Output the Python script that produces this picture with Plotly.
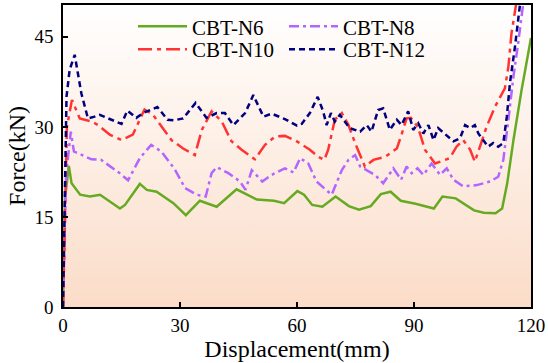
import plotly.graph_objects as go

# ---- data ----
x_n6 = [0, 0.5, 1.5, 2.2, 4.4, 6.9, 9.5, 12, 14.6, 15.9, 19.7, 21.5, 24, 28.3, 31.5, 35.1, 39.4, 44.5, 49.7,
        54.1, 56.7, 60.1, 61.8, 63.9, 66.5, 69.9, 73.3, 75.9, 78.9, 81.5, 84, 86.6, 90.4, 95.1, 97.3, 100.7,
        102.8, 105.4, 107.9, 110.9, 112.6, 113.9, 115.5, 117.6, 120]
y_n6 = [0, 18, 23.5, 20.6, 18.7, 18.4, 18.7, 17.6, 16.4, 17.0, 20.5, 19.5, 19.2, 17.3, 15.3, 17.7, 16.7, 19.6, 17.9,
        17.7, 17.3, 19.3, 18.7, 17.0, 16.7, 18.4, 16.8, 16.2, 16.8, 18.8, 19.2, 17.7, 17.2, 16.4, 18.4, 18.1,
        17.2, 16.1, 15.7, 15.6, 16.4, 20.6, 27.8, 36.2, 44.8]

x_n8 = [0, 0.8, 2.0, 2.8, 7.3, 9.8, 14.5, 16.7, 19.7, 22.6, 25.2, 28.6, 31.3, 34.3, 36.6, 38.1, 39.4, 42.4, 45.4,
        46.8, 48.4, 51.1, 53.5, 56.9, 59.1, 60.8, 62.9, 65.0, 68.9, 71.5, 73.2, 74.9, 76.2, 80.0, 82.1, 84.7,
        86.7, 88.1, 89.4, 90.9, 92.4, 94.5, 96.7, 98.4, 100.1, 102.6, 106.1, 109.5, 111.6, 112.9, 114.2, 115.5,
        116.7, 118.0]
y_n8 = [0, 22, 29.2, 25.9, 24.6, 24.5, 22.3, 21.1, 24.8, 27.0, 25.9, 23.0, 19.8, 18.7, 18.4, 22.3, 23.3, 22.3, 20.9,
        19.5, 22.8, 20.9, 22.0, 23.1, 22.4, 24.8, 23.9, 20.9, 18.7, 22.8, 24.5, 25.3, 23.4, 22.0, 20.6, 23.1,
        21.2, 23.4, 22.3, 23.1, 22.0, 23.9, 22.0, 23.1, 21.2, 20.1, 20.3, 20.9, 21.7, 24.5, 31.2, 38.4,
        43.9, 50.5]

x_n10 = [0, 1.0, 2.3, 4.3, 7.3, 9.0, 12.0, 15.0, 17.9, 19.2, 20.9, 23.1, 25.2, 27.8, 30.8, 33.8, 35.6, 38.1, 40.7,
         43.2, 45.8, 49.2, 51.8, 54.4, 56.9, 59.7, 63.3, 65.5, 67.0, 68.0, 69.7, 71.5, 73.2, 74.9, 77.4, 79.6,
         82.6, 85.6, 86.8, 88.1, 89.2, 91.0, 92.8, 95.4, 99.2, 100.9, 102.6, 104.4, 105.6, 106.9, 108.6, 110.8,
         113.3, 114.2, 115.0, 116.2]
y_n10 = [0, 30, 34.5, 31.4, 30.9, 30.3, 28.7, 27.8, 28.7, 30.6, 32.9, 32.0, 30.1, 27.8, 26.4, 25.3, 29.5, 32.6, 30.9,
         27.6, 26.2, 24.6, 27.0, 28.4, 28.5, 27.7, 26.2, 25.0, 24.5, 26.2, 31.2, 32.3, 30.3, 27.3, 23.4, 24.5,
         25.0, 26.4, 28.7, 31.4, 31.5, 30.0, 26.2, 23.9, 24.8, 26.7, 27.8, 26.2, 24.2, 26.7, 30.0, 33.4,
         36.4, 40.0, 45.6, 50.5]

x_n12 = [0, 0.9, 1.7, 3.0, 4.7, 6.4, 8.1, 9.4, 15.0, 16.5, 18.8, 20.5, 24.2, 26.8, 28.5, 30.8, 34.0, 36.8, 39.4,
         41.5, 43.7, 46.7, 48.8, 51.4, 53.5, 56.9, 60.0, 61.2, 63.3, 65.3, 66.7, 67.6, 68.7, 69.7, 71.0, 73.5,
         76.2, 77.9, 79.1, 80.8, 82.1, 83.8, 85.6, 86.8, 88.5, 89.8, 91.1, 92.4, 93.7, 95.0, 96.2, 97.9, 100.1,
         101.8, 103.1, 104.4, 105.6, 106.5, 107.8, 109.0, 110.3, 111.6, 112.9, 113.8, 114.6, 115.9, 117.2]
y_n12 = [0, 35.0, 39.5, 42.0, 35.6, 31.4, 31.7, 32.0, 30.5, 32.7, 31.5, 32.3, 33.3, 31.2, 31.1, 31.4, 34.0, 31.5, 32.3,
         32.3, 30.3, 32.3, 35.3, 31.7, 32.2, 31.3, 30.2, 30.5, 32.3, 35.0, 32.6, 30.3, 32.3, 30.9, 32.0, 29.8,
         29.2, 30.3, 29.2, 32.8, 33.1, 29.5, 31.2, 30.3, 32.6, 29.5, 30.6, 28.9, 30.3, 27.8, 29.8, 28.9, 27.6,
         28.1, 30.3, 29.8, 30.3, 28.9, 27.8, 26.7, 27.3, 26.7, 27.3, 31.7, 37.3, 43.4, 50.5]

x_ticks = [0, 30, 60, 90, 120]
y_ticks = [0, 15, 30, 45]
x_range = [0, 120]
y_range = [0, 50.3]

FONT = "Liberation Serif"

fig = go.Figure()

# background gradient (white at top to peach at bottom)
fig.add_trace(go.Scatter(
    x=[x_range[0], x_range[1], x_range[1], x_range[0], x_range[0]],
    y=[y_range[0], y_range[0], y_range[1], y_range[1], y_range[0]],
    mode="none", fill="toself",
    fillgradient=dict(type="vertical",
                      colorscale=[[0, "#fbdcc8"], [0.5, "#fdeee4"], [1, "#ffffff"]]),
    showlegend=False, hoverinfo="skip"))

# (name, x, y, colour, dash, legend id)
series = [
    ("CBT-N6", x_n6, y_n6, "#66aa22", "solid", "legend"),
    ("CBT-N8", x_n8, y_n8, "#b366ff", "10px,4px,3px,4px", "legend2"),
    ("CBT-N10", x_n10, y_n10, "#ff3333", "14px,5px,4px,5px", "legend3"),
    ("CBT-N12", x_n12, y_n12, "#000080", "6px,4px", "legend4"),
]
for name, xs, ys, color, dash, lg in series:
    fig.add_trace(go.Scatter(x=xs, y=ys, mode="lines", name=name, legend=lg,
                             line=dict(color=color, width=2.5, dash=dash)))

axis_common = dict(showline=True, linecolor="black", linewidth=1.5, mirror=True,
                   ticks="inside", ticklen=5, tickwidth=1.5, tickcolor="black",
                   showgrid=False, zeroline=False, automargin=False,
                   tickfont=dict(family=FONT, size=19, color="black"))

legend_common = dict(yanchor="top", xanchor="left", itemwidth=49,
                     bgcolor="rgba(0,0,0,0)", tracegroupgap=0,
                     font=dict(family=FONT, size=21, color="black"))
col1, col2 = 0.1496, 0.4722
row1, row2 = 0.996, 0.9205

fig.update_layout(
    width=548, height=363,
    margin=dict(l=63, r=17, t=5, b=56),
    paper_bgcolor="white", plot_bgcolor="white",
    font=dict(family=FONT, color="black"),
    xaxis=dict(range=x_range, tickvals=x_ticks, **axis_common,
               title=dict(text="Displacement(mm)", font=dict(family=FONT, size=24), standoff=2)),
    yaxis=dict(range=y_range, tickvals=y_ticks, ticklabelstandoff=4, **axis_common,
               title=dict(text="Force(kN)", font=dict(family=FONT, size=24), standoff=2)),
    legend=dict(x=col1, y=row1, **legend_common),
    legend2=dict(x=col2, y=row1, **legend_common),
    legend3=dict(x=col1, y=row2, **legend_common),
    legend4=dict(x=col2, y=row2, **legend_common),
    showlegend=True,
)

fig.write_html("out.html")
